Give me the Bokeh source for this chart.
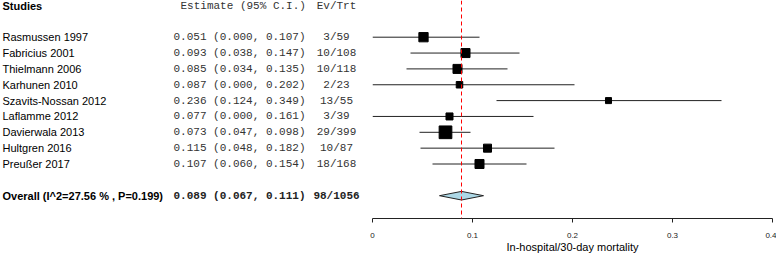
from bokeh.plotting import figure
from bokeh.layouts import row
from bokeh.models import Range1d, Span, FixedTicker, ColumnDataSource
from bokeh.core.properties import value
from bokeh.embed import file_html
from bokeh.resources import INLINE

# ---------------- data ----------------
studies = ["Rasmussen 1997", "Fabricius 2001", "Thielmann 2006", "Karhunen 2010",
           "Szavits-Nossan 2012", "Laflamme 2012", "Davierwala 2013", "Hultgren 2016",
           "Preußer 2017"]
estimates = [0.051, 0.093, 0.085, 0.087, 0.236, 0.077, 0.073, 0.115, 0.107]
lower = [0.000, 0.038, 0.034, 0.000, 0.124, 0.000, 0.047, 0.048, 0.060]
upper = [0.107, 0.147, 0.135, 0.202, 0.349, 0.161, 0.098, 0.182, 0.154]
events = [3, 10, 10, 2, 13, 3, 29, 10, 18]
totals = [59, 108, 118, 23, 55, 39, 399, 87, 168]
weights = [12.6, 11.9, 11.9, 6.2, 5.3, 7.2, 23.6, 9.4, 11.9]  # relative study weights (%)

overall_label = "Overall (I^2=27.56 % , P=0.199)"
overall_est = 0.089
overall_lower = 0.067
overall_upper = 0.111
overall_events = 98
overall_total = 1056

header_studies = "Studies"
header_estimate = "Estimate (95% C.I.)"
header_evtrt = "Ev/Trt"
x_ticks = [0, 0.1, 0.2, 0.3, 0.4]
x_tick_labels = ["0", "0.1", "0.2", "0.3", "0.4"]
x_title = "In-hospital/30-day mortality"

# ---------------- geometry ----------------
LEFT_W = 368          # width of the text table figure
FRAME_H = 218         # common frame height (top of figure down to axis line)
PXU = 1000.0          # pixels per unit of mortality
GAP_L = 4             # border left of forest frame
GAP_R = 4             # border right of forest frame
PITCH = 15.85
TOP = 5.0

rows = [2 + i for i in range(len(studies))]
overall_row = rows[-1] + 2
header_row = 0

y_lo = (FRAME_H - TOP) / PITCH
y_hi = -TOP / PITCH

SANS = value("Liberation Sans")
MONO = value("Liberation Mono")

# ---------------- left: text table ----------------
t = figure(frame_width=LEFT_W, frame_height=FRAME_H, output_backend="svg",
           toolbar_location=None,
           x_range=Range1d(0, LEFT_W), y_range=Range1d(y_lo, y_hi),
           x_axis_location=None, y_axis_location=None, min_border=0)
t.outline_line_color = None
t.xgrid.visible = False
t.ygrid.visible = False

src = ColumnDataSource(dict(
    y=rows, est=estimates, lo=lower, hi=upper,
    size=[2.614 * (w ** 0.5) for w in weights],
    name=studies,
    est_txt=[f"{e:.3f} ({l:.3f}, {u:.3f})" for e, l, u in zip(estimates, lower, upper)],
    ev_txt=[f"{a}/{b}" for a, b in zip(events, totals)],
))

NAME_X = 2
EST_X = 173
EV_X = 336
t.text(x=NAME_X, y="y", text="name", source=src, text_font=SANS, text_font_size="11px",
       text_baseline="middle", text_align="left", text_color="black")
t.text(x=EST_X, y="y", text="est_txt", source=src, text_font=MONO, text_font_size="11px",
       text_baseline="middle", text_align="left", text_color="#333333")
t.text(x=EV_X, y="y", text="ev_txt", source=src, text_font=MONO, text_font_size="11px",
       text_baseline="middle", text_align="center", text_color="#333333")

t.text(x=[NAME_X], y=[header_row], text=[header_studies], text_font=SANS,
       text_font_size="11px", text_font_style="bold", text_baseline="middle",
       text_align="left", text_color="black")
t.text(x=[EST_X + 7], y=[header_row], text=[header_estimate], text_font=MONO,
       text_font_size="11px", text_baseline="middle", text_align="left", text_color="#333333")
t.text(x=[EV_X], y=[header_row], text=[header_evtrt], text_font=MONO,
       text_font_size="11px", text_baseline="middle", text_align="center", text_color="#333333")

t.text(x=[NAME_X], y=[overall_row], text=[overall_label], text_font=SANS,
       text_font_size="11px", text_font_style="bold", text_baseline="middle",
       text_align="left", text_color="black")
t.text(x=[EST_X], y=[overall_row],
       text=[f"{overall_est:.3f} ({overall_lower:.3f}, {overall_upper:.3f})"],
       text_font=MONO, text_font_size="11px", text_font_style="bold",
       text_baseline="middle", text_align="left", text_color="#222222")
t.text(x=[EV_X], y=[overall_row], text=[f"{overall_events}/{overall_total}"],
       text_font=MONO, text_font_size="11px", text_font_style="bold",
       text_baseline="middle", text_align="center", text_color="#222222")

# ---------------- right: forest plot ----------------
p = figure(frame_width=int(PXU * (x_ticks[-1] - x_ticks[0])), frame_height=FRAME_H,
           output_backend="svg", toolbar_location=None,
           x_range=Range1d(x_ticks[0], x_ticks[-1]), y_range=Range1d(y_lo, y_hi),
           y_axis_location=None, min_border_left=GAP_L, min_border_right=GAP_R,
           min_border_top=0, min_border_bottom=0)
p.outline_line_color = None
p.xgrid.visible = False
p.ygrid.visible = False

p.add_layout(Span(location=overall_est, dimension="height", line_color="red",
                  line_dash="4 3", line_width=1))

p.segment(x0="lo", x1="hi", y0="y", y1="y", source=src, line_color="#222222", line_width=1)
p.scatter(x="est", y="y", size="size", marker="square", source=src,
          fill_color="black", line_color="black")

hd = 4.3 / PITCH
p.patch(x=[overall_lower, overall_est, overall_upper, overall_est],
        y=[overall_row, overall_row - hd, overall_row, overall_row + hd],
        fill_color="#ADD8E6", line_color="#222222", line_width=1)

ax = p.xaxis[0]
ax.ticker = FixedTicker(ticks=x_ticks)
ax.major_label_overrides = dict(zip(x_ticks, x_tick_labels))
ax.minor_tick_line_color = None
ax.major_tick_in = 0
ax.major_tick_out = 4
ax.axis_line_color = "#222222"
ax.major_tick_line_color = "#222222"
ax.major_label_text_font = "Liberation Sans"
ax.major_label_text_font_size = "8px"
ax.major_label_text_color = "#222222"
ax.major_label_standoff = 10
ax.axis_label = x_title
ax.axis_label_text_font = "Liberation Sans"
ax.axis_label_text_font_size = "11px"
ax.axis_label_text_font_style = "normal"
ax.axis_label_text_color = "black"
ax.axis_label_standoff = 0

layout = row(t, p, spacing=0)
open("out.html", "w").write(file_html(layout, INLINE))
